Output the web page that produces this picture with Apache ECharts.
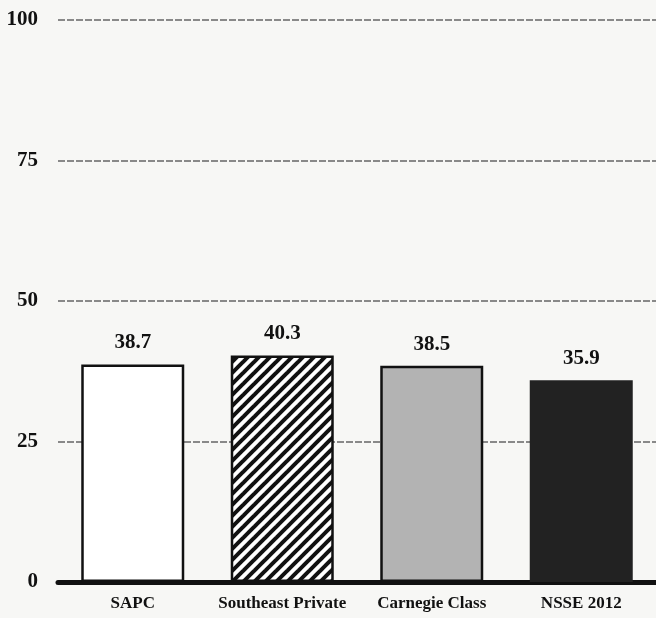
<!DOCTYPE html>
<html>
<head>
<meta charset="utf-8">
<script src="https://cdn.jsdelivr.net/npm/echarts@6/dist/echarts.min.js"></script>
<style>
  html, body { margin: 0; padding: 0; background: #f7f7f5; }
  #chart { width: 656px; height: 618px; }
</style>
</head>
<body>
<div id="chart"></div>
<script>
// Chart data
const categories = ['SAPC', 'Southeast Private', 'Carnegie Class', 'NSSE 2012'];
const values = [38.7, 40.3, 38.5, 35.9];
const yTicks = [0, 25, 50, 75, 100];

// Diagonal "/" hatch tile for the second bar
function hatchTile() {
  const s = 11;
  const c = document.createElement('canvas');
  c.width = s; c.height = s;
  const g = c.getContext('2d');
  g.fillStyle = '#ffffff';
  g.fillRect(0, 0, s, s);
  g.fillStyle = '#111111';
  const w = 2.8; // half stripe thickness measured horizontally
  for (let k = -1; k <= 1; k++) {
    const o = k * s;
    g.beginPath();
    g.moveTo(o - w, s);
    g.lineTo(o + w, s);
    g.lineTo(o + s + w, 0);
    g.lineTo(o + s - w, 0);
    g.closePath();
    g.fill();
  }
  return c;
}

const styles = [
  { color: '#ffffff', borderColor: '#111111', borderWidth: 2.5 },
  { color: { image: hatchTile(), repeat: 'repeat' }, borderColor: '#111111', borderWidth: 2.5 },
  { color: '#b3b3b3', borderColor: '#111111', borderWidth: 2.5 },
  { color: '#222222', borderColor: '#222222', borderWidth: 0 }
];

const serif = '"Liberation Serif", "DejaVu Serif", serif';

const chart = echarts.init(document.getElementById('chart'), null, { renderer: 'canvas' });
chart.setOption({
  backgroundColor: '#f7f7f5',
  animation: false,
  grid: { left: 58, top: 20, width: 604, height: 562, containLabel: false },
  xAxis: {
    type: 'category',
    data: categories,
    axisLine: { show: true, lineStyle: { color: '#111111', width: 5 } },
    axisTick: { show: false },
    axisLabel: {
      interval: 0,
      hideOverlap: false,
      margin: 13,
      fontFamily: serif,
      fontWeight: 'bold',
      fontSize: 17,
      color: '#111111'
    }
  },
  yAxis: {
    type: 'value',
    min: yTicks[0],
    max: yTicks[yTicks.length - 1],
    interval: 25,
    axisLine: { show: false },
    axisTick: { show: false },
    axisLabel: {
      margin: 20,
      fontFamily: serif,
      fontWeight: 'bold',
      fontSize: 21,
      color: '#111111'
    },
    splitLine: {
      show: true,
      lineStyle: { color: '#666666', width: 1.5, type: [7, 2] }
    }
  },
  series: [{
    type: 'bar',
    barWidth: 103,
    data: values.map((v, i) => ({ value: v, itemStyle: styles[i] })),
    label: {
      show: true,
      position: 'top',
      distance: 11,
      fontFamily: serif,
      fontWeight: 'bold',
      fontSize: 21,
      color: '#111111',
      formatter: p => p.value.toFixed(1)
    }
  }]
});
</script>
</body>
</html>
